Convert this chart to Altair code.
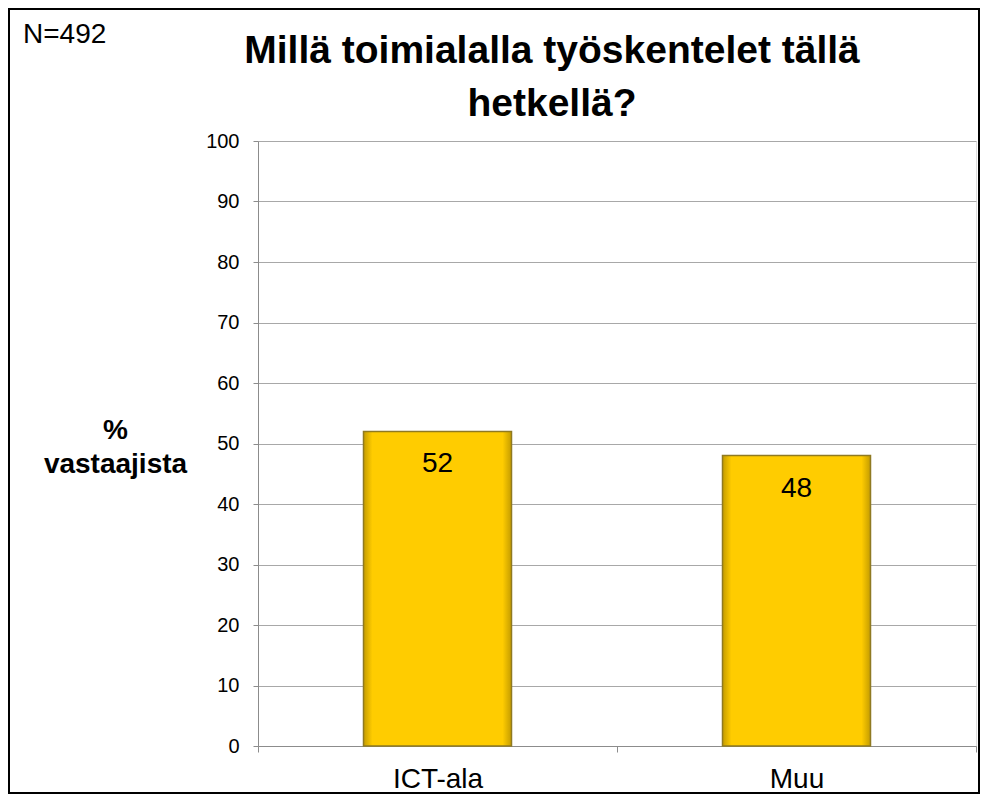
import altair as alt
import pandas as pd

categories = ["ICT-ala", "Muu"]
values = [52, 48]
title_lines = ["Millä toimialalla työskentelet tällä", "hetkellä?"]
n_label = "N=492"
y_title = ["%", "vastaajista"]
y_ticks = list(range(0, 101, 10))

df = pd.DataFrame({"toimiala": categories, "osuus": values})
note_df = pd.DataFrame({"note": [n_label]})

FONT = "Liberation Sans"
GRAY = "#8c8c8c"

x_enc = alt.X(
    "toimiala:N", sort=categories, title=None,
    scale=alt.Scale(paddingInner=0, paddingOuter=0),
    axis=alt.Axis(labelAngle=0, labelFontSize=28, labelColor="black", labelFont=FONT,
                  labelPadding=13, tickSize=6, tickColor=GRAY, domainColor=GRAY,
                  tickBand="extent", grid=False),
)
y_enc = alt.Y(
    "osuus:Q",
    scale=alt.Scale(domain=[0, 100], nice=False),
    axis=alt.Axis(values=y_ticks, grid=True, gridColor="#a8a8a8", gridWidth=1,
                  domainColor=GRAY, tickColor=GRAY, tickSize=5,
                  labelFontSize=20, labelFont=FONT, labelColor="black", labelPadding=14,
                  title=y_title, titleAngle=0, titleFontSize=28, titleFont=FONT,
                  titleFontWeight="bold", titleColor="black", titleX=-143, titleY=297,
                  titleAlign="center", titleBaseline="alphabetic", titleLineHeight=34),
)

grad = alt.Gradient(
    gradient="linear",
    stops=[
        alt.GradientStop(color="#c49c00", offset=0),
        alt.GradientStop(color="#ffcc00", offset=0.06),
        alt.GradientStop(color="#ffcc00", offset=0.94),
        alt.GradientStop(color="#c49c00", offset=1),
    ],
    x1=0, x2=1, y1=0, y2=0,
)

bars = alt.Chart(df).mark_bar(width=148, color=grad, stroke="#8f7a22", strokeWidth=1.5).encode(
    x=x_enc, y=y_enc
)
labels = alt.Chart(df).mark_text(baseline="alphabetic", dy=41, fontSize=28, font=FONT, color="black").encode(
    x=alt.X("toimiala:N", sort=categories), y=alt.Y("osuus:Q"), text=alt.Text("osuus:Q")
)
note = alt.Chart(note_df).mark_text(align="left", baseline="alphabetic", fontSize=28, font=FONT, color="black").encode(
    x=alt.value(-235), y=alt.value(-98), text="note:N"
)
title = alt.Chart(note_df).mark_text(align="center", baseline="alphabetic", fontSize=39, font=FONT,
                                     fontWeight="bold", color="black", lineHeight=53).encode(
    x=alt.value(294), y=alt.value(-78), text=alt.value(title_lines)
)
frame = alt.Chart(note_df).mark_rect(filled=False, stroke="black", strokeWidth=2).encode(
    x=alt.value(-249), x2=alt.value(721), y=alt.value(-132), y2=alt.value(652)
)

chart = alt.layer(frame, bars, labels, note, title).properties(
    width=718, height=605,
    padding={"left": 250, "top": 133, "right": 5, "bottom": 49},
    autosize=alt.AutoSizeParams(type="none"),
).configure_view(stroke=None).configure(background="white")

chart.save("out.html", embed_options={"renderer": "svg", "actions": False})
